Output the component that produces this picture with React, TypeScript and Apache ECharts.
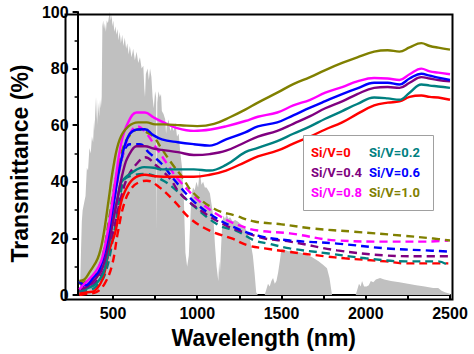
import React, { useEffect, useRef } from "react";
import * as echarts from "echarts";

// ---------- data (wavelength nm, value %) ----------
const xLabelValues = [500, 1000, 1500, 2000, 2500];
const xTickValues = [500, 750, 1000, 1250, 1500, 1750, 2000, 2250, 2500];

const sampleNames = ["Si/V=0", "Si/V=0.2", "Si/V=0.4", "Si/V=0.6", "Si/V=0.8", "Si/V=1.0"];
const sampleColors = ["#ff0000", "#008080", "#800080", "#0000ff", "#ff00ff", "#808000"];

// AM1.5 solar spectrum (normalised, grey background)
const solarSpectrum: [number, number][] = [
  [290, 0], [300, 0], [305, 3], [310, 15], [315, 26], [320, 30], [330, 33], [337, 35], [345, 45], [352, 44],
  [360, 52], [368, 50], [375, 56], [382, 54], [388, 62], [392, 58], [396, 70], [400, 62], [405, 70], [409, 60],
  [413, 68], [418, 63], [423, 69], [428, 66], [433, 70], [437, 95], [442, 97], [447, 94], [452, 96], [458, 93],
  [463, 97], [470, 96], [475, 98], [482, 100], [487, 97], [492, 99], [497, 95], [502, 97], [508, 93], [515, 95],
  [520, 92], [527, 94], [533, 90], [540, 93], [547, 89], [555, 92], [562, 88], [570, 91], [578, 87], [585, 89],
  [593, 85], [600, 88], [610, 84], [620, 87], [630, 83], [640, 86], [650, 82], [660, 84], [670, 80], [680, 81],
  [686, 73], [690, 70], [695, 78], [705, 80], [713, 76], [720, 80], [728, 77], [735, 70], [742, 66], [750, 72],
  [756, 70], [759, 23], [763, 68], [770, 72], [778, 70], [785, 71], [790, 65], [800, 64], [810, 62], [815, 57],
  [820, 60], [830, 62], [840, 58], [850, 60], [860, 58], [870, 61], [880, 56], [890, 57], [900, 50], [910, 45],
  [920, 35], [930, 15], [940, 10], [950, 14], [958, 25], [965, 35], [975, 38], [985, 37], [995, 40], [1005, 38],
  [1015, 44], [1025, 39], [1035, 40], [1045, 38], [1055, 38], [1065, 37], [1075, 36], [1085, 32], [1095, 28],
  [1105, 18], [1115, 10], [1125, 5], [1130, 12], [1135, 8], [1140, 15], [1148, 25], [1155, 28], [1165, 27],
  [1175, 28.5], [1185, 27], [1195, 27.5], [1210, 26], [1225, 26.5], [1240, 26], [1260, 25], [1280, 24], [1300, 22],
  [1315, 19], [1330, 14], [1340, 8], [1350, 1], [1360, 0], [1400, 0], [1410, 2], [1420, 4], [1430, 3], [1440, 5],
  [1450, 6], [1460, 4], [1470, 5], [1480, 8], [1490, 12], [1500, 16.5], [1520, 16], [1540, 15.5], [1560, 15.8],
  [1580, 15], [1600, 15.2], [1640, 14.5], [1680, 13.5], [1720, 12], [1750, 10.5], [1770, 9.5], [1785, 6], [1795, 2],
  [1800, 0], [1940, 0], [1950, 2], [1960, 4], [1970, 3], [1978, 5], [1990, 3], [2005, 3], [2018, 3.5], [2030, 5],
  [2045, 4.5], [2060, 5.5], [2085, 6], [2110, 5.5], [2150, 5], [2200, 4.5], [2250, 4], [2300, 3.5], [2350, 3],
  [2400, 2.5], [2430, 2.5], [2450, 1.5], [2470, 1], [2500, 0.5],
];

// solid curves (one per sample)
const solidSiV0: [number, number][] = [
  [300, 0.5], [350, 1], [390, 1.5], [440, 6], [475, 15.4], [513, 22], [545, 32], [570, 36.5], [620, 41], [690, 42.5],
  [750, 42], [850, 41.8], [980, 41.8], [1074, 42.5], [1171, 44], [1285, 47], [1360, 49], [1475, 51], [1570, 53.5],
  [1670, 56], [1760, 58.5], [1860, 61], [1950, 64], [2050, 67], [2130, 68], [2200, 68.4], [2260, 70], [2330, 70.5],
  [2380, 70], [2430, 69.8], [2500, 69],
];
const solidSiV02: [number, number][] = [
  [300, 1.5], [350, 2.5], [400, 4], [450, 9], [494, 24.6], [530, 35], [551, 40], [616, 43.4], [685, 45.2], [742, 45],
  [788, 44.4], [885, 44.4], [980, 44.4], [1074, 44], [1171, 46], [1285, 50.5], [1360, 52], [1475, 54.4], [1570, 57],
  [1670, 59.6], [1760, 62.3], [1860, 65], [1950, 67.5], [2050, 69.8], [2130, 69.5], [2200, 69], [2260, 71.5],
  [2330, 74.4], [2380, 74], [2430, 73.7], [2500, 73.2],
];
const solidSiV04: [number, number][] = [
  [300, 2], [350, 3], [400, 6], [440, 10], [480, 20], [520, 32], [570, 46], [610, 51], [640, 52.6], [690, 52.6],
  [740, 51.8], [790, 51.3], [885, 50.5], [980, 49.5], [1074, 49.8], [1171, 51], [1285, 54], [1360, 56], [1475, 58],
  [1570, 60.5], [1670, 63.2], [1760, 66], [1860, 68.4], [1950, 71], [2050, 73.2], [2130, 73.5], [2200, 73.2],
  [2260, 75], [2330, 77], [2380, 76.5], [2430, 76], [2500, 75.5],
];
const solidSiV06: [number, number][] = [
  [300, 4.5], [340, 3.5], [380, 6], [416, 8.4], [460, 17.5], [502, 31.6], [542, 45.6], [590, 56], [645, 58.5],
  [690, 58.6], [740, 56.5], [790, 55], [885, 54], [980, 53.3], [1074, 52.8], [1171, 55], [1285, 57.5], [1360, 59.6],
  [1475, 61], [1570, 63.5], [1670, 66.2], [1760, 68.5], [1860, 71], [1950, 73], [2050, 75], [2130, 75], [2200, 74.4],
  [2260, 76.5], [2330, 78.2], [2380, 77.5], [2430, 76.8], [2500, 76],
];
const solidSiV08: [number, number][] = [
  [300, 2], [330, 4], [380, 7], [415, 10], [440, 14], [475, 24.5], [513, 40], [550, 54], [590, 61], [640, 64.5],
  [690, 64.5], [740, 62.8], [800, 61], [880, 59], [980, 58], [1080, 58.5], [1170, 59.6], [1285, 61.5], [1360, 63],
  [1475, 64.5], [1570, 67], [1670, 69], [1760, 71.5], [1860, 73.5], [1950, 75.5], [2050, 76.7], [2130, 76.5],
  [2200, 76], [2260, 78], [2330, 80], [2380, 79], [2430, 78.6], [2500, 78],
];
const solidSiV10: [number, number][] = [
  [300, 5], [330, 5.5], [360, 8], [410, 13], [440, 20], [475, 34], [503, 45.5], [540, 55], [590, 59.5], [650, 61],
  [700, 61], [750, 60.3], [800, 60.3], [900, 60], [1000, 59.7], [1100, 60.5], [1200, 63], [1285, 65.5], [1360, 68],
  [1475, 71.5], [1570, 74.5], [1670, 77], [1760, 79.5], [1860, 82], [1950, 84], [2050, 86], [2130, 86.5], [2200, 86],
  [2260, 87.5], [2330, 89], [2380, 88], [2430, 87.4], [2500, 86.7],
];

// dashed curves (one per sample)
const dashSiV0: [number, number][] = [
  [300, 0], [350, 0.5], [400, 1], [450, 4], [494, 10.5], [530, 22.5], [570, 33], [616, 38.2], [660, 40], [700, 40.4],
  [771, 38.3], [862, 33.3], [959, 27], [1074, 22.8], [1205, 20], [1303, 17.5], [1400, 16.5], [1530, 15.4],
  [1760, 13.7], [1875, 13], [2120, 11.9], [2235, 11.2], [2390, 11.2], [2490, 11.2],
];
const dashSiV02: [number, number][] = [
  [300, 1], [350, 1.5], [400, 3], [450, 7], [500, 20], [550, 37.5], [570, 41], [630, 42.5], [690, 42.8], [800, 40.4],
  [885, 36.5], [976, 31.6], [1130, 24.6], [1230, 22.8], [1340, 19.3], [1420, 18.2], [1550, 16.5], [1780, 14.7],
  [2000, 13], [2240, 11.9], [2430, 11.9], [2490, 10.5],
];
const dashSiV04: [number, number][] = [
  [300, 1.5], [350, 2.5], [400, 5], [450, 10], [500, 22], [550, 35], [590, 42], [650, 47], [690, 48.7], [760, 45.6],
  [840, 41], [900, 35.8], [1030, 29.5], [1170, 24.6], [1300, 21.8], [1400, 20], [1550, 18.9], [1830, 15.8],
  [2120, 14], [2320, 13.7], [2490, 13.7],
];
const dashSiV06: [number, number][] = [
  [300, 5], [330, 3], [380, 5], [420, 8], [460, 16], [513, 36.5], [551, 48], [600, 53.3], [660, 53.3], [710, 50.5],
  [790, 46.3], [860, 41], [976, 33.3], [1100, 27.7], [1210, 24.2], [1360, 21], [1550, 19.3], [1830, 18.2],
  [2120, 16.5], [2350, 15.8], [2490, 15.4],
];
const dashSiV08: [number, number][] = [
  [300, 2], [350, 3], [400, 6], [440, 10], [480, 22], [520, 38], [560, 50], [600, 57], [645, 59.6], [700, 57],
  [750, 52.6], [830, 45.6], [885, 41], [1016, 33], [1131, 28], [1250, 24.6], [1360, 22.8], [1550, 21.8],
  [1830, 19.3], [2120, 18.9], [2350, 18.9], [2490, 19.3],
];
const dashSiV10: [number, number][] = [
  [300, 4], [350, 5], [400, 8], [440, 14], [480, 28], [520, 42], [560, 52], [600, 56.5], [650, 58.5], [700, 57.5],
  [740, 56], [790, 51.6], [860, 45.6], [910, 41.8], [970, 36.5], [1100, 30.5], [1230, 28], [1340, 26], [1500, 25],
  [1690, 23.5], [1930, 22.4], [2220, 21], [2400, 20], [2500, 19.3],
];

const solidSeries = [solidSiV0, solidSiV02, solidSiV04, solidSiV06, solidSiV08, solidSiV10];
const dashSeries = [dashSiV0, dashSiV02, dashSiV04, dashSiV06, dashSiV08, dashSiV10];

const AXIS_FONT = "Arial, 'Liberation Sans', sans-serif";

// plot frame (grid box)
const GRID = { left: 63, right: 24, top: 12, bottom: 57 };
const CHART_W = 474;
const CHART_H = 354;

export default function App() {
  const ref = useRef<HTMLDivElement>(null);

  useEffect(() => {
    if (!ref.current) return;
    const chart = echarts.init(ref.current, undefined, { renderer: "svg" });

    const series: any[] = [
      {
        name: "AM1.5",
        type: "line",
        data: solarSpectrum,
        symbol: "none",
        lineStyle: { width: 0 },
        itemStyle: { color: "#c0c0c0" },
        areaStyle: { color: "#c0c0c0", opacity: 1 },
        z: 1,
        silent: true,
      },
    ];
    dashSeries.forEach((d, i) => {
      series.push({
        name: sampleNames[i] + " (dashed)",
        type: "line",
        data: d,
        symbol: "none",
        smooth: 0.4,
        lineStyle: { color: sampleColors[i], width: 2.4, type: [8, 5] },
        itemStyle: { color: sampleColors[i] },
        z: 2,
      });
    });
    solidSeries.forEach((d, i) => {
      series.push({
        name: sampleNames[i],
        type: "line",
        data: d,
        symbol: "none",
        smooth: 0.4,
        lineStyle: { color: sampleColors[i], width: 2.4 },
        itemStyle: { color: sampleColors[i] },
        z: 3,
      });
    });

    const legendTexts: any[] = sampleNames.map((n, i) => ({
      type: "text",
      left: i % 2 === 0 ? 311 : 369,
      top: 145.5 + Math.floor(i / 2) * 20.3,
      style: {
        text: n,
        fill: sampleColors[i],
        font: "bold 13px Roboto, sans-serif",
      },
      z: 101,
    }));

    chart.setOption({
      animation: false,
      grid: { ...GRID },
      xAxis: {
        type: "value",
        min: 290,
        max: 2500,
        position: "bottom",
        name: "Wavelength (nm)",
        nameLocation: "middle",
        nameGap: 26,
        nameTextStyle: { fontFamily: AXIS_FONT, fontWeight: "bold", fontSize: 23, color: "#000" },
        axisLine: { show: true, onZero: false, lineStyle: { color: "#000", width: 2 } },
        axisTick: { show: true, customValues: xTickValues, length: 4, lineStyle: { color: "#000", width: 2 } },
        axisLabel: {
          customValues: xLabelValues,
          formatter: (v: number) => String(v),
          fontFamily: AXIS_FONT,
          fontWeight: "bold",
          fontSize: 16,
          color: "#000",
          margin: 10,
        },
        splitLine: { show: false },
      },
      yAxis: {
        type: "value",
        min: 0,
        max: 100,
        interval: 20,
        name: "Transmittance (%)",
        nameLocation: "middle",
        nameGap: 38,
        nameRotate: 90,
        nameTextStyle: {
          fontFamily: AXIS_FONT,
          fontWeight: "bold",
          fontSize: 23,
          color: "#000",
          padding: [0, 20, 0, 0],
        },
        axisLine: { show: true, onZero: false, lineStyle: { color: "#000", width: 2 } },
        axisTick: { show: true, length: 5, lineStyle: { color: "#000", width: 2 } },
        minorTick: { show: true, splitNumber: 2, length: 3, lineStyle: { color: "#000", width: 1.5 } },
        axisLabel: { fontFamily: AXIS_FONT, fontWeight: "bold", fontSize: 16, color: "#000", margin: 9 },
        splitLine: { show: false },
      },
      graphic: [
        {
          type: "rect",
          left: GRID.left,
          top: GRID.top,
          shape: {
            width: CHART_W - GRID.left - GRID.right,
            height: CHART_H - GRID.top - GRID.bottom,
          },
          style: { fill: "none", stroke: "#000", lineWidth: 2 },
          silent: true,
          z: 50,
        },
        {
          type: "rect",
          left: 303,
          top: 135,
          shape: { width: 130, height: 75 },
          style: { fill: "#fff", stroke: "#a0a0a0", lineWidth: 1 },
          z: 100,
        },
        ...legendTexts,
      ],
      series,
    });

    return () => chart.dispose();
  }, []);

  return (
    <div
      ref={ref}
      style={{ position: "fixed", left: 0, top: 0, width: CHART_W, height: CHART_H, background: "#fff" }}
    />
  );
}
